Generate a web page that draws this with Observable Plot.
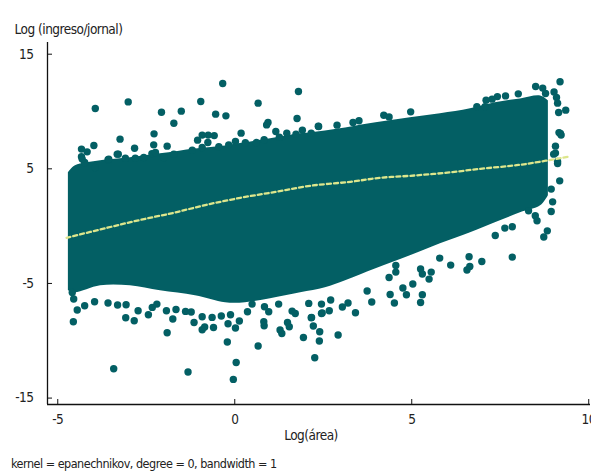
<!DOCTYPE html>
<html>
<head>
<meta charset="utf-8">
<script src="https://cdn.jsdelivr.net/npm/d3@7"></script>
<script src="https://cdn.jsdelivr.net/npm/@observablehq/plot@0.6"></script>
<style>
  html, body { margin: 0; padding: 0; background: #fff; }
  #caption { font-family: "Liberation Sans Narrow", "DejaVu Sans Condensed", "Arial Narrow", sans-serif; font-size: 12.5px; letter-spacing: -0.5px; color: #222; padding-left: 11px; margin-top: 8px; line-height: 20px; white-space: nowrap; }
</style>
</head>
<body>
<div id="chart"></div>
<div id="caption"></div>
<script>
// ---- labels ----
const yLabel = "Log (ingreso/jornal)";
const xLabel = "Log(área)";
const captionText = "kernel = epanechnikov, degree = 0, bandwidth = 1";
const xTicks = [-5, 0, 5, 10];
const yTicks = [-15, -5, 5, 15];

// ---- dense core of the scatter (upper / lower envelope) ----
const coreX      = [-4.70, -4.50, -3.79, -2.95, -2.10, -1.11, -0.26, 0.30, 1.01, 1.86, 2.56, 3.13, 3.99, 4.96, 5.81, 6.66, 7.36, 8.07, 8.64, 8.86];
const coreTop    = [ 4.65,  5.26,  5.70,  5.96,  6.31,  6.74,  7.00, 7.27, 7.62, 8.05, 8.31, 8.57, 9.01, 9.45, 9.80, 10.23, 10.76, 11.10, 11.36, 10.93];
const coreBottom = [-5.64, -5.81, -5.20, -5.20, -5.64, -6.07, -6.68, -6.68, -6.33, -5.81, -5.37, -4.76, -3.72, -2.58, -1.54, -0.58, 0.29, 1.16, 1.77, 2.65];

// ---- individual points outside the dense core ----
const ptX = [
  -3.94, -3.01, -0.34, 1.80, -0.96, 0.66, -2.07, -1.51, -0.54, -0.25, -1.72, 0.94, 0.90, 1.76, -2.28, -3.24, -3.98, -4.33, -4.17, -2.83,
  -1.91, -2.29, -2.34, -3.29, -3.58, -1.05, -0.92, -0.75, -0.58, -0.76, 0.18, 0.02, 0.30, 0.61, 0.83, 1.16, 1.26, 1.47, 1.73, 1.91,
  2.16, 2.37, -4.33, -4.24,
  9.19, 8.50, 8.70, 8.78, 8.01, 7.65, 7.42, 7.27, 7.10, 6.84, 7.07, 9.02, 9.09, 9.12, 9.15, 9.35, 9.16, 9.22, 4.97, 4.21,
  4.36, 3.34, 3.51, 2.89, 2.36, 9.06, 9.06, 9.12, 9.18, 8.94, 9.20, 9.12, 9.01,
  7.84, 8.83, 8.73, 8.94, 8.98, 7.84, 7.63, 7.36, 6.98, 6.64, 6.56, 6.62, 6.10, 5.79, 5.55, 5.49, 5.25, 5.30, 5.25, 5.30,
  5.03, 4.85, 4.75, 4.51, 4.39, 4.36, 4.55, 4.55, 3.87, 3.74, 3.41, 3.20, 3.04, 2.92, 2.67, 2.40, 2.39, 2.26, 2.22, 2.17,
  2.71, 2.47, 8.30, 8.49, 8.54,
  -4.56, -3.42, -1.32, -0.04, 0.04, -0.21, 0.66, 1.94, -1.91, -3.08, -2.84, -2.44, -1.75, -1.15, -0.92, -0.60, -0.85, -0.19, 0.02, 0.13,
  0.83, 0.82, 0.96, 1.28, 1.33, 1.49, 1.54, 2.16, 2.45,
  -4.45, -4.24, -3.96, -3.58, -3.31, -3.07, -2.73, -2.33, -2.20, -1.93, -1.66, -1.39, -1.23, -0.92, -0.64, -0.38, -0.12, 0.36, 0.49, 0.84,
  1.24, 1.62, 1.71, 2.09, 2.45, -4.59, -4.55,
  -4.31, -3.94, -3.56, -3.32, -3.09, -2.81, -2.57, -2.24, -2.01, -1.72, -1.20, -0.92, -0.45, -0.17
];
const ptY = [
  10.26, 10.84, 12.44, 11.74, 10.87, 10.73, 9.94, 10.03, 9.77, 9.62, 8.98, 9.04, 8.83, 9.39, 8.05, 7.59, 7.03, 6.72, 6.48, 6.80,
  6.98, 7.09, 6.33, 6.28, 5.79, 7.50, 7.94, 7.94, 7.90, 7.29, 8.11, 7.38, 7.27, 7.29, 7.53, 8.25, 7.76, 8.11, 8.02, 8.37,
  8.11, 8.69, 6.05, 5.55,
  12.59, 12.18, 12.04, 11.57, 11.54, 11.36, 11.30, 11.08, 10.99, 10.43, 10.43, 11.71, 11.22, 10.73, 9.91, 10.12, 8.16, 7.94, 9.97, 9.68,
  9.53, 9.04, 9.19, 8.81, 8.72, 6.98, 6.37, 5.46, 3.95, 3.23, 8.08, 5.64, 6.28,
  -2.70, -0.41, -0.95, 1.28, 2.12, -0.06, -0.17, -0.82, -3.08, -3.52, -3.83, -2.67, -3.40, -2.79, -4.01, -4.62, -3.74, -4.18, -6.66, -5.99,
  -5.05, -5.99, -5.40, -6.71, -5.96, -4.48, -4.01, -3.43, -6.62, -5.66, -7.55, -6.71, -7.06, -9.50, -7.38, -9.21, -10.02, -11.48, -8.71, -7.96,
  -6.45, -7.58, 1.34, 0.90, 0.47,
  -8.34, -12.44, -12.72, -13.37, -11.89, -10.11, -10.46, -9.71, -9.30, -7.99, -8.25, -7.73, -8.10, -8.40, -9.04, -8.84, -8.80, -8.51, -8.89, -8.28,
  -8.69, -8.34, -7.47, -9.06, -9.36, -8.40, -8.78, -7.99, -7.62,
  -7.32, -6.94, -6.60, -6.71, -6.88, -6.86, -7.38, -7.09, -6.80, -7.38, -7.27, -7.44, -7.49, -7.90, -7.96, -7.84, -7.73, -7.47, -6.80, -7.03,
  -6.80, -7.41, -7.62, -6.74, -6.80, -5.78, -6.36,
  5.85, 5.12, 5.85, 6.28, 5.93, 5.93, 5.99, 6.42, 5.99, 6.28, 6.63, 6.86, 6.92, 7.09
];

// ---- kernel-smoothed curve ----
const smoothX = [-4.75, -3.60, -2.66, -1.73, -0.80, 0.16, 1.15, 2.14, 3.27, 4.12, 4.96, 5.95, 6.94, 7.79, 8.27, 9.40];
const smoothY = [-1.02, -0.14, 0.55, 1.16, 1.86, 2.47, 2.99, 3.52, 3.87, 4.22, 4.39, 4.65, 5.00, 5.26, 5.44, 6.05];

const core = coreX.map((x, i) => ({x, top: coreTop[i], bottom: coreBottom[i]}));
const points = ptX.map((x, i) => ({x, y: ptY[i]}));
const smooth = smoothX.map((x, i) => ({x, y: smoothY[i]}));

const teal = "#035f64";
const fontFamily = '"Liberation Sans Narrow", "DejaVu Sans Condensed", "Arial Narrow", sans-serif';
const xDomain = [-5.29, 10.05];
const yDomain = [-15.56, 16.02];

const chart = Plot.plot({
  width: 591,
  height: 446,
  marginLeft: 47,
  marginRight: 1,
  marginTop: 42,
  marginBottom: 42,
  style: {fontFamily, fontSize: "13.5px", letterSpacing: "-0.5px", color: "#222", background: "#fff", overflow: "visible"},
  x: {domain: xDomain},
  y: {domain: yDomain},
  marks: [
    Plot.areaY(core, {x: "x", y1: "bottom", y2: "top", fill: teal, curve: "catmull-rom"}),
    Plot.dot(points, {x: "x", y: "y", r: 3.7, fill: teal}),
    Plot.line(smooth, {x: "x", y: "y", stroke: "#dde68c", strokeWidth: 2.3, strokeDasharray: "4,3", curve: "catmull-rom"}),
    Plot.ruleX([xDomain[0]], {stroke: "#111", strokeWidth: 1.3}),
    Plot.ruleY([yDomain[0]], {stroke: "#111", strokeWidth: 1.3}),
    Plot.axisY({ticks: yTicks, tickSize: -5, tickPadding: 19, tickFormat: d => String(d), label: null, stroke: "#111"}),
    Plot.axisX({ticks: xTicks, tickSize: -5, tickPadding: 15, tickFormat: d => String(d), label: null, stroke: "#111"}),
    Plot.text([yLabel], {frameAnchor: "top-left", textAnchor: "start", dx: -33, dy: -18, fill: "#222"}),
    Plot.text([xLabel], {frameAnchor: "bottom", dx: -8, dy: 35, fill: "#222"})
  ]
});
document.getElementById("chart").append(chart);
document.getElementById("caption").textContent = captionText;
</script>
</body>
</html>
